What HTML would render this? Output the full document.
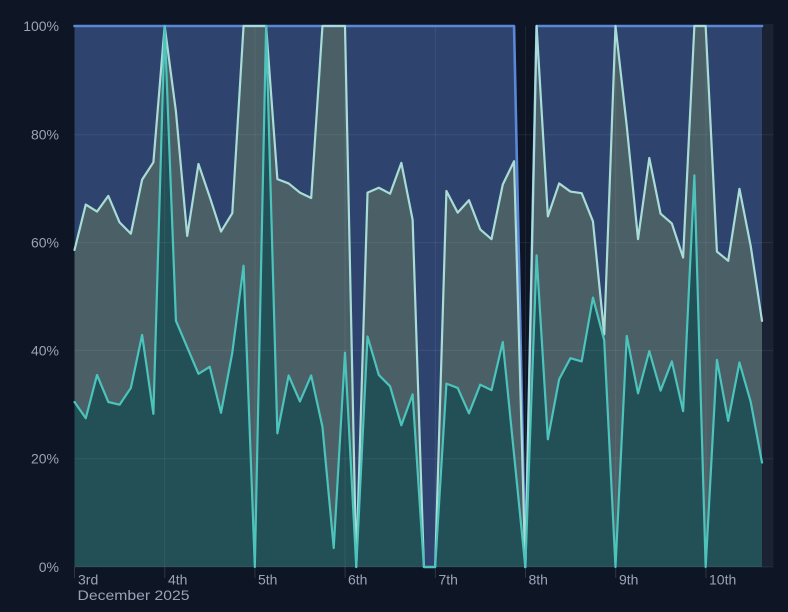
<!DOCTYPE html>
<html>
<head>
<meta charset="utf-8">
<style>
  html,body{margin:0;padding:0;background:#0e1525;}
  body{width:788px;height:612px;overflow:hidden;}
  svg{display:block;}
  text{font-family:"Liberation Sans",sans-serif;font-size:14px;fill:#9aa3b6;}
</style>
</head>
<body>
<svg width="788" height="612" viewBox="0 0 788 612" xmlns="http://www.w3.org/2000/svg">
  <rect x="0" y="0" width="788" height="612" fill="#0e1525"/>
  <!-- right strip -->
  <rect x="762" y="24" width="11.5" height="543" fill="#1b2233"/>

  <g transform="translate(74.5,567) scale(11.2705,-5.41)">
    <!-- blue area -->
    <polygon fill="#2e446e" points="0,0 0,100 39,100 40,0 41,100 61,100 61,0"/>
    <!-- light area -->
    <polygon fill="#4a5f66" points="0,0 0,58.6 1,67 2,65.7 3,68.6 4,63.7 5,61.6 6,71.6 7,74.8 8,100 9,84.2 10,61.2 11,74.5 12,68.4 13,62 14,65.4 15,100 16,100 17,100 18,71.7 19,70.9 20,69.2 21,68.2 22,100 23,100 24,100 25,0 26,69.2 27,70.1 28,69 29,74.7 30,64.2 31,0 32,0 33,69.5 34,65.5 35,67.8 36,62.4 37,60.6 38,70.7 39,75 40,0 41,100 42,64.8 43,70.9 44,69.4 45,69.1 46,63.9 47,43 48,100 49,81.5 50,60.6 51,75.6 52,65.3 53,63.5 54,57.2 55,100 56,100 57,58.3 58,56.6 59,69.9 60,59.3 61,45.5 61,0"/>
    <!-- teal area -->
    <polygon fill="#234f57" points="0,0 0,30.5 1,27.5 2,35.5 3,30.5 4,30 5,33.1 6,42.9 7,28.3 8,100 9,45.5 10,40.6 11,35.7 12,37 13,28.5 14,39.6 15,55.7 16,0 17,100 18,24.7 19,35.4 20,30.6 21,35.4 22,25.9 23,3.5 24,39.6 25,0 26,42.6 27,35.5 28,33.4 29,26.2 30,31.9 31,0 32,0 33,33.9 34,33.1 35,28.4 36,33.7 37,32.7 38,41.6 39,20.8 40,0 41,57.6 42,23.6 43,34.7 44,38.6 45,38 46,49.8 47,41.9 48,0 49,42.7 50,32.1 51,39.9 52,32.6 53,38 54,28.8 55,72.4 56,0 57,38.3 58,27 59,37.8 60,30.5 61,19.3 61,0"/>
  </g>

  <!-- gridlines -->
  <g stroke="#ffffff" stroke-opacity="0.07" stroke-width="1">
    <line x1="74.5" y1="134.8" x2="773" y2="134.8"/>
    <line x1="74.5" y1="242.6" x2="773" y2="242.6"/>
    <line x1="74.5" y1="350.4" x2="773" y2="350.4"/>
    <line x1="74.5" y1="458.8" x2="773" y2="458.8"/>
    <line x1="74.5" y1="567" x2="773" y2="567"/>
    <line x1="164.7" y1="26" x2="164.7" y2="567"/>
    <line x1="254.9" y1="26" x2="254.9" y2="567"/>
    <line x1="345.1" y1="26" x2="345.1" y2="567"/>
    <line x1="435.3" y1="26" x2="435.3" y2="567"/>
    <line x1="525.5" y1="26" x2="525.5" y2="567"/>
    <line x1="615.7" y1="26" x2="615.7" y2="567"/>
    <line x1="705.9" y1="26" x2="705.9" y2="567"/>
  </g>
  <!-- ticks -->
  <g stroke="#ffffff" stroke-opacity="0.14" stroke-width="1">
    <line x1="74.5" y1="567" x2="74.5" y2="578"/>
    <line x1="164.7" y1="567" x2="164.7" y2="578"/>
    <line x1="254.9" y1="567" x2="254.9" y2="578"/>
    <line x1="345.1" y1="567" x2="345.1" y2="578"/>
    <line x1="435.3" y1="567" x2="435.3" y2="578"/>
    <line x1="525.5" y1="567" x2="525.5" y2="578"/>
    <line x1="615.7" y1="567" x2="615.7" y2="578"/>
    <line x1="705.9" y1="567" x2="705.9" y2="578"/>
  </g>

  <g transform="translate(74.5,567) scale(11.2705,-5.41)" fill="none" stroke-linejoin="round" stroke-linecap="round">
    <polyline vector-effect="non-scaling-stroke" stroke="#5b87d6" stroke-width="2.6" points="0,100 39,100 40,0 41,100 61,100"/>
    <polyline vector-effect="non-scaling-stroke" stroke="#a9dcd7" stroke-width="2.2" points="0,58.6 1,67 2,65.7 3,68.6 4,63.7 5,61.6 6,71.6 7,74.8 8,100 9,84.2 10,61.2 11,74.5 12,68.4 13,62 14,65.4 15,100 16,100 17,100 18,71.7 19,70.9 20,69.2 21,68.2 22,100 23,100 24,100 25,0 26,69.2 27,70.1 28,69 29,74.7 30,64.2 31,0 32,0 33,69.5 34,65.5 35,67.8 36,62.4 37,60.6 38,70.7 39,75 40,0 41,100 42,64.8 43,70.9 44,69.4 45,69.1 46,63.9 47,43 48,100 49,81.5 50,60.6 51,75.6 52,65.3 53,63.5 54,57.2 55,100 56,100 57,58.3 58,56.6 59,69.9 60,59.3 61,45.5"/>
    <polyline vector-effect="non-scaling-stroke" stroke="#4cc4bc" stroke-width="2.2" points="0,30.5 1,27.5 2,35.5 3,30.5 4,30 5,33.1 6,42.9 7,28.3 8,100 9,45.5 10,40.6 11,35.7 12,37 13,28.5 14,39.6 15,55.7 16,0 17,100 18,24.7 19,35.4 20,30.6 21,35.4 22,25.9 23,3.5 24,39.6 25,0 26,42.6 27,35.5 28,33.4 29,26.2 30,31.9 31,0 32,0 33,33.9 34,33.1 35,28.4 36,33.7 37,32.7 38,41.6 39,20.8 40,0 41,57.6 42,23.6 43,34.7 44,38.6 45,38 46,49.8 47,41.9 48,0 49,42.7 50,32.1 51,39.9 52,32.6 53,38 54,28.8 55,72.4 56,0 57,38.3 58,27 59,37.8 60,30.5 61,19.3"/>
  </g>

  <!-- y labels -->
  <g text-anchor="end">
    <text x="59" y="31">100%</text>
    <text x="59" y="139.5">80%</text>
    <text x="59" y="247.5">60%</text>
    <text x="59" y="355.5">40%</text>
    <text x="59" y="463.5">20%</text>
    <text x="59" y="572">0%</text>
  </g>
  <!-- x labels -->
  <text x="78" y="584.5">3rd</text>
  <text x="168" y="584.5">4th</text>
  <text x="258" y="584.5">5th</text>
  <text x="348" y="584.5">6th</text>
  <text x="438.5" y="584.5">7th</text>
  <text x="528.5" y="584.5">8th</text>
  <text x="619" y="584.5">9th</text>
  <text x="709" y="584.5">10th</text>
  <text x="77.5" y="600" textLength="112" lengthAdjust="spacingAndGlyphs">December 2025</text>
</svg>
</body>
</html>
